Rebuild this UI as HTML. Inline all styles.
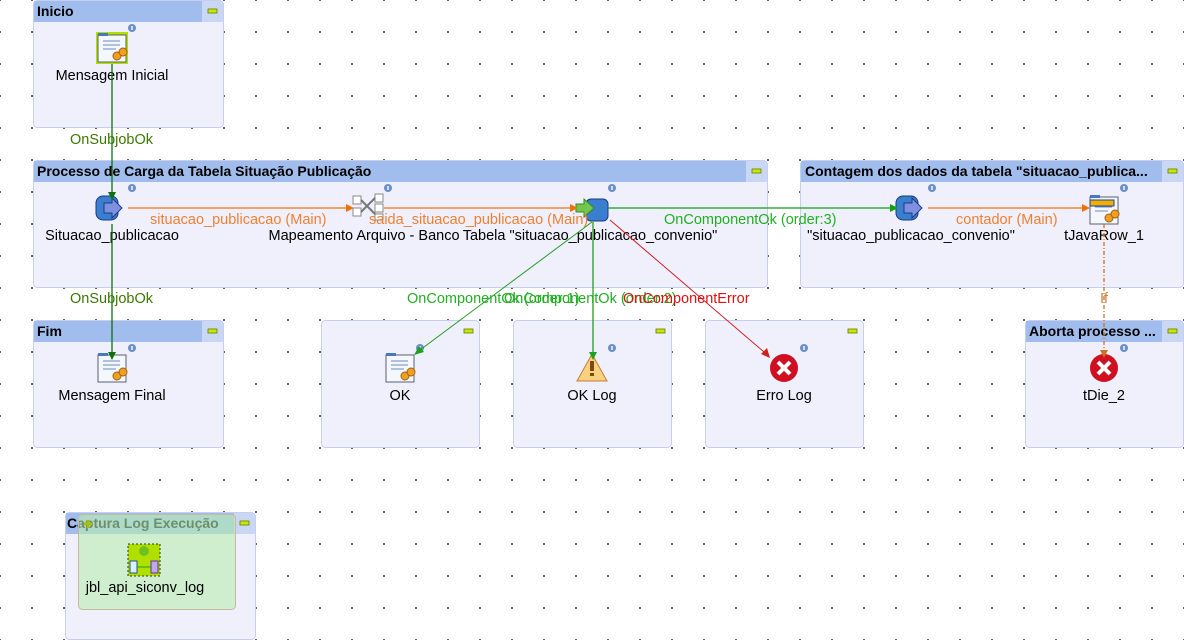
<!DOCTYPE html>
<html><head><meta charset="utf-8"><style>
body{margin:0;width:1184px;height:640px;overflow:hidden;background:#fff;
background-image:radial-gradient(circle,#333 0.8px,transparent 1.1px);background-size:32px 32px;background-position:-16px -16px;}
svg{position:absolute;left:0;top:0}
text{font-family:"Liberation Sans",sans-serif;font-size:14.5px}
.t{font-weight:bold;font-size:14px;fill:#000}
.n{fill:#000;text-anchor:middle}
</style></head><body>
<svg width="1184" height="640" viewBox="0 0 1184 640">
<defs>
<g id="msg"><rect x="-14" y="-13" width="28" height="27" fill="#f4f8fc" stroke="#5a6070"/><rect x="-14" y="-15" width="10" height="3" fill="#4a78c0"/><line x1="-9" y1="-7" x2="8" y2="-7" stroke="#6a8ac0"/><line x1="-9" y1="-3" x2="8" y2="-3" stroke="#6a8ac0"/><line x1="-9" y1="1" x2="4" y2="1" stroke="#6a8ac0"/><circle cx="5" cy="8" r="4" fill="#f0a020" stroke="#a06010"/><circle cx="11" cy="4" r="4" fill="#f0a020" stroke="#a06010"/></g>
<g id="inp"><rect x="-14" y="-12" width="22" height="24" rx="7" fill="#3a7ed0" stroke="#1a3a80"/><path d="M-6,-5 h8 v-5 l10,10 l-10,10 v-5 h-8z" fill="#8090e0" stroke="#1a3a80"/></g>
<g id="info"><circle r="4" fill="#6a90c8"/><rect x="-0.7" y="-2" width="1.4" height="4" fill="#fff"/></g>
<g id="err"><circle r="14" fill="#d01020"/><path d="M-6,-6 L6,6 M6,-6 L-6,6" stroke="#fff" stroke-width="4"/></g>
</defs>

<g stroke="#c6cfee" fill="#eff0fb">
<rect x="33.5" y="0.5" width="190" height="127" rx="4"/>
<rect x="33.5" y="160.5" width="734" height="127" rx="4"/>
<rect x="800.5" y="160.5" width="383" height="127" rx="4"/>
<rect x="33.5" y="320.5" width="190" height="127" rx="4"/>
<rect x="321.5" y="320.5" width="158" height="127" rx="4"/>
<rect x="513.5" y="320.5" width="158" height="127" rx="4"/>
<rect x="705.5" y="320.5" width="158" height="127" rx="4"/>
<rect x="1025.5" y="320.5" width="158" height="127" rx="4"/>
<rect x="65.5" y="512.5" width="190" height="127" rx="4"/>
</g>
<g fill="#a1bdee">
<rect x="34" y="1" width="168" height="21"/><rect x="202" y="1" width="21" height="21" fill="#c9d7f5"/>
<rect x="34" y="161" width="712" height="21"/><rect x="746" y="161" width="21" height="21" fill="#c9d7f5"/>
<rect x="801" y="161" width="361" height="21"/><rect x="1162" y="161" width="21" height="21" fill="#c9d7f5"/>
<rect x="34" y="321" width="168" height="21"/><rect x="202" y="321" width="21" height="21" fill="#c9d7f5"/>
<rect x="1026" y="321" width="136" height="21"/><rect x="1162" y="321" width="21" height="21" fill="#c9d7f5"/>
<rect x="66" y="513" width="168" height="21"/><rect x="234" y="513" width="21" height="21" fill="#c9d7f5"/>
</g>
<g fill="#c8e800" stroke="#6a7a00" stroke-width="0.8">
<rect x="208" y="9" width="9" height="4"/><rect x="752" y="169" width="9" height="4"/><rect x="1168" y="169" width="9" height="4"/>
<rect x="208" y="329" width="9" height="4"/><rect x="464" y="329" width="9" height="4"/><rect x="656" y="329" width="9" height="4"/>
<rect x="848" y="329" width="9" height="4"/><rect x="1168" y="329" width="9" height="4"/><rect x="240" y="521" width="9" height="4"/>
</g>
<text class="t" x="37" y="16">Inicio</text>
<text class="t" x="37" y="176">Processo de Carga da Tabela Situação Publicação</text>
<text class="t" x="805" y="176">Contagem dos dados da tabela "situacao_publica...</text>
<text class="t" x="37" y="336">Fim</text>
<text class="t" x="1029" y="336">Aborta processo ...</text>
<text class="t" x="67" y="528">Captura Log Execução</text>
<rect x="78.5" y="514.5" width="157" height="95" rx="4" fill="#b8ecb0" fill-opacity="0.6" stroke="#c8b8a0"/>
<path d="M84,524h8M88,520v8" stroke="#a8c000" stroke-width="2.5"/>

<rect x="96" y="32" width="32" height="32" fill="#b0e000"/>
<use href="#msg" x="112" y="48"/>
<use href="#info" x="132" y="28"/>
<use href="#inp" x="110" y="208"/><use href="#info" x="132" y="188"/>
<g transform="translate(368,206)"><rect x="-15" y="-10" width="8" height="8" fill="#fff" stroke="#888"/><rect x="-15" y="2" width="8" height="8" fill="#fff" stroke="#888"/><rect x="7" y="-12" width="8" height="8" fill="#fff" stroke="#888"/><rect x="7" y="-2" width="8" height="8" fill="#fff" stroke="#888"/><rect x="7" y="8" width="8" height="6" fill="#fff" stroke="#888"/><path d="M-7,-6 L7,8 M-7,6 L7,-8" stroke="#777" stroke-width="2"/></g>
<use href="#info" x="388" y="188"/>
<rect x="586" y="199" width="22" height="22" rx="5" fill="#3a7ed0" stroke="#1a3a80"/><path d="M576,204h8v-5l10,9l-10,9v-5h-8z" fill="#70c850" stroke="#3a8a20"/><use href="#info" x="612" y="188"/>
<use href="#inp" x="910" y="208"/><use href="#info" x="932" y="188"/>
<use href="#msg" x="1104" y="210"/><rect x="1090" y="200" width="24" height="6" fill="#f0b000" stroke="#2040a0"/><use href="#info" x="1124" y="188"/>
<use href="#msg" x="112" y="368"/><use href="#info" x="132" y="348"/>
<use href="#msg" x="400" y="368"/><use href="#info" x="420" y="348"/>
<path d="M592,354 L607,381 L577,381 Z" fill="#f8d080" stroke="#c08030"/><rect x="590" y="361" width="4" height="10" fill="#7a4a10"/><rect x="590" y="373" width="4" height="3" fill="#7a4a10"/><use href="#info" x="612" y="348"/>
<use href="#err" x="784" y="368"/><use href="#info" x="804" y="348"/>
<use href="#err" x="1104" y="368"/><use href="#info" x="1124" y="348"/>
<rect x="128" y="544" width="32" height="32" fill="#b0e000" stroke="#333" stroke-dasharray="2,2"/><circle cx="144" cy="551" r="5" fill="#70c020"/><rect x="130" y="561" width="7" height="12" fill="#ddeeff" stroke="#2050a0"/><rect x="151" y="561" width="7" height="12" fill="#c0a8f0" stroke="#6030a0"/><line x1="137" y1="567" x2="151" y2="567" stroke="#20a020"/>

<text class="n" x="112" y="80">Mensagem Inicial</text>
<text class="n" x="112" y="240">Situacao_publicacao</text>
<text class="n" x="364" y="240">Mapeamento Arquivo - Banco</text>
<text class="n" x="590" y="240">Tabela "situacao_publicacao_convenio"</text>
<text class="n" x="911" y="240">"situacao_publicacao_convenio"</text>
<text class="n" x="1104" y="240">tJavaRow_1</text>
<text class="n" x="112" y="400">Mensagem Final</text>
<text class="n" x="400" y="400">OK</text>
<text class="n" x="592" y="400">OK Log</text>
<text class="n" x="784" y="400">Erro Log</text>
<text class="n" x="1104" y="400">tDie_2</text>
<text class="n" x="145" y="592">jbl_api_siconv_log</text>

<g stroke-width="1.3" fill="none">
<line x1="112" y1="64" x2="112" y2="192" stroke="#107010"/>
<line x1="112" y1="224" x2="112" y2="352" stroke="#107010"/>
<line x1="128" y1="208" x2="348" y2="208" stroke="#f07010"/>
<line x1="384" y1="208" x2="572" y2="208" stroke="#f07010"/>
<line x1="608" y1="208" x2="892" y2="208" stroke="#10a010"/>
<line x1="928" y1="208" x2="1084" y2="208" stroke="#f07010"/>
<line x1="592" y1="222" x2="420" y2="350" stroke="#20a020" stroke-width="1"/>
<line x1="593" y1="222" x2="593" y2="352" stroke="#20a020"/>
<line x1="610" y1="220" x2="764" y2="352" stroke="#d02020" stroke-width="1"/>
<line x1="1104" y1="224" x2="1104" y2="350" stroke="#d07020" stroke-dasharray="4,2,1,2"/>
</g>
<g>
<path d="M108,192h8l-4,8z" fill="#107010"/>
<path d="M108,352h8l-4,8z" fill="#107010"/>
<path d="M346,204v8l8,-4z" fill="#f07010"/>
<path d="M570,204v8l8,-4z" fill="#f07010"/>
<path d="M890,204v8l8,-4z" fill="#10a010"/>
<path d="M1082,204v8l8,-4z" fill="#f07010"/>
<path d="M589,352h8l-4,8z" fill="#20a020"/>
<path d="M1100,350h8l-4,8z" fill="#d07020"/>
<path d="M414,355 l10,-3 l-5,-6z" fill="#20a020"/>
<path d="M770,358 l-3,-10 l-6,6z" fill="#d02020"/>
</g>
<g>
<text x="70" y="144" fill="#3a7a00">OnSubjobOk</text>
<text x="70" y="303" fill="#3a7a00">OnSubjobOk</text>
<text x="150" y="224" fill="#f08030">situacao_publicacao (Main)</text>
<text x="369" y="224" fill="#f08030">saida_situacao_publicacao (Main)</text>
<text x="664" y="224" fill="#20b020">OnComponentOk (order:3)</text>
<text x="956" y="224" fill="#f08030">contador (Main)</text>
<text x="407" y="303" fill="#20b020">OnComponentOk (order:1)</text>
<text x="504" y="303" fill="#20b020">OnComponentOk (order:2)</text>
<text x="623" y="303" fill="#e01010">OnComponentError</text>
<text x="1100" y="303" fill="#d08040">If</text>
</g>
</svg>
</body></html>
